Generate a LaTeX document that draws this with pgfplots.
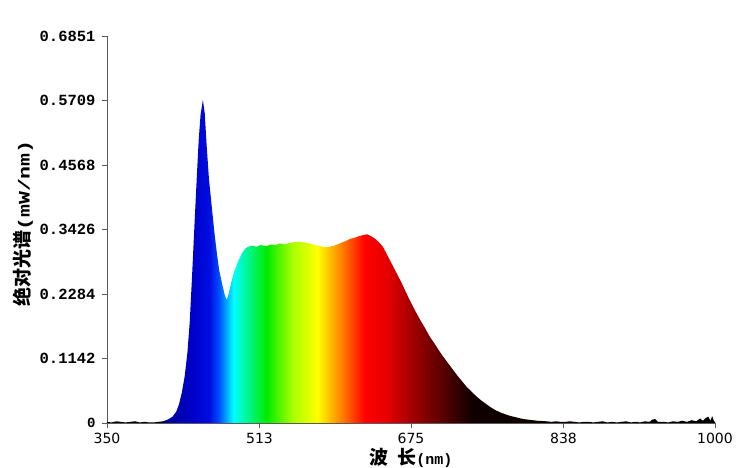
\documentclass[border=0pt]{standalone}
\usepackage{pgfplots}
\pgfplotsset{compat=1.18}
\usepackage{fontspec}
\setmainfont{DejaVu Sans}
\newfontfamily\monofont{Liberation Mono}
\newfontfamily\widemono[FakeStretch=1.35]{Liberation Mono}
\newfontfamily\cjk{Noto Sans CJK SC}

% colour of the fill runs with the wavelength, 350 nm at 25bp, 1000 nm at 75bp
\pgfdeclarehorizontalshading{spectrum}{100bp}{
  rgb(0bp)=(0,0,0);
  rgb(25bp)=(0,0,0);
  rgb(29.4bp)=(0,0,0);
  rgb(29.9bp)=(0,0,0.6);
  rgb(31.9bp)=(0,0,0.78);
  rgb(33.4bp)=(0,0.05,0.88);
  rgb(34.2bp)=(0,0.3,1);
  rgb(35.4bp)=(0,1,1);
  rgb(38.1bp)=(0,0.92,0);
  rgb(40.3bp)=(0.67,1,0);
  rgb(42.3bp)=(1,1,0);
  rgb(44.1bp)=(1,0.55,0);
  rgb(46.2bp)=(1,0,0);
  rgb(48bp)=(0.9,0,0);
  rgb(50bp)=(0.65,0,0);
  rgb(55bp)=(0.06,0,0);
  rgb(75bp)=(0,0,0);
  rgb(100bp)=(0,0,0)}

\definecolor{axisgray}{RGB}{90,90,90}

\begin{document}
\begin{tikzpicture}
\useasboundingbox (-107pt,-45pt) rectangle (643pt,423pt);
\begin{axis}[
    at={(0,0)},anchor=south west,
    scale only axis,width=608pt,height=387pt,
    xmin=350,xmax=1000,ymin=0,ymax=0.6851,
    axis x line*=bottom,axis y line*=left,
    axis line style={axisgray,line width=0.8pt},
    tick style={axisgray,line width=0.8pt},
    tick align=outside,major tick length=5pt,
    xtick={350,513,675,838,1000},
    xticklabels={350,513,675,838,1000},
    ytick={0,0.1142,0.2284,0.3426,0.4568,0.5709,0.6851},
    yticklabels={{\fontsize{14}{14}\selectfont 0},0.1142,0.2284,0.3426,0.4568,0.5709,0.6851},
    xticklabel style={font=\fontsize{14}{14}\selectfont,yshift=-2pt},
    yticklabel style={font=\monofont\bfseries\fontsize{15.5}{16}\selectfont,xshift=-3pt},
    xlabel={{\cjk\bfseries\fontsize{19}{20}\selectfont 波\hspace{0.45em}长}{\monofont\bfseries\fontsize{15}{16}\selectfont(nm)}},
    ylabel={{\cjk\bfseries\fontsize{19}{20}\selectfont 绝对光谱}{\widemono\bfseries\fontsize{16}{16}\selectfont(mW/nm)}},
    every axis x label/.style={at={(axis description cs:0.5,0)},anchor=center,yshift=-35pt},
    every axis y label/.style={at={([xshift=-84pt,yshift=6pt]axis description cs:0,0.5)},anchor=center,rotate=90},
    clip=false
]
\addplot[draw=none,shade,shading=spectrum] table {
w p
350 0.002
355 0.001
360 0.003
365 0.002
370 0.001
375 0.002
380 0.003
385 0.001
390 0.002
395 0.001
400 0.001
405 0.002
410 0.003
415 0.006
420 0.011
424 0.020
427 0.033
430 0.054
433 0.082
436 0.125
438.5 0.180
441 0.262
443.5 0.350
446 0.435
448 0.500
450 0.545
452.5 0.572
454.5 0.548
456.5 0.492
459 0.432
462 0.383
465 0.335
467.5 0.300
470 0.270
473 0.247
476 0.226
478 0.218
480 0.228
483 0.250
486 0.268
490 0.285
494 0.300
498 0.309
501 0.312
505 0.314
510 0.312
514 0.315
520 0.313
525 0.316
530 0.315
535 0.318
540 0.316
545 0.319
550 0.320
556 0.321
562 0.319
567 0.318
572 0.315
578 0.313
583 0.311
588 0.312
593 0.314
599 0.318
605 0.322
610 0.326
615 0.328
620 0.331
625 0.333
628 0.334
632 0.331
636 0.327
640 0.321
645 0.312
650 0.296
655 0.280
660 0.264
665 0.248
670 0.230
675 0.213
680 0.197
685 0.182
690 0.168
695 0.153
700 0.141
705 0.128
710 0.116
715 0.105
720 0.094
725 0.083
730 0.073
735 0.063
740 0.055
745 0.047
750 0.040
755 0.034
760 0.028
765 0.023
770 0.019
775 0.016
780 0.013
785 0.011
790 0.009
795 0.007
800 0.006
805 0.005
810 0.004
815 0.0035
820 0.003
825 0.002
830 0.003
835 0.002
840 0.002
845 0.003
850 0.002
855 0.001
860 0.002
865 0.002
870 0.001
875 0.002
880 0.003
885 0.001
890 0.002
895 0.001
900 0.002
905 0.003
910 0.001
915 0.002
920 0.001
925 0.003
930 0.002
933 0.006
936 0.007
939 0.002
945 0.002
950 0.001
955 0.003
960 0.002
965 0.004
970 0.002
975 0.005
980 0.003
984 0.008
987 0.004
990 0.009
993 0.011
995 0.004
997 0.012
999 0.003
1000 0.002
} \closedcycle;
\end{axis}
\end{tikzpicture}
\end{document}
